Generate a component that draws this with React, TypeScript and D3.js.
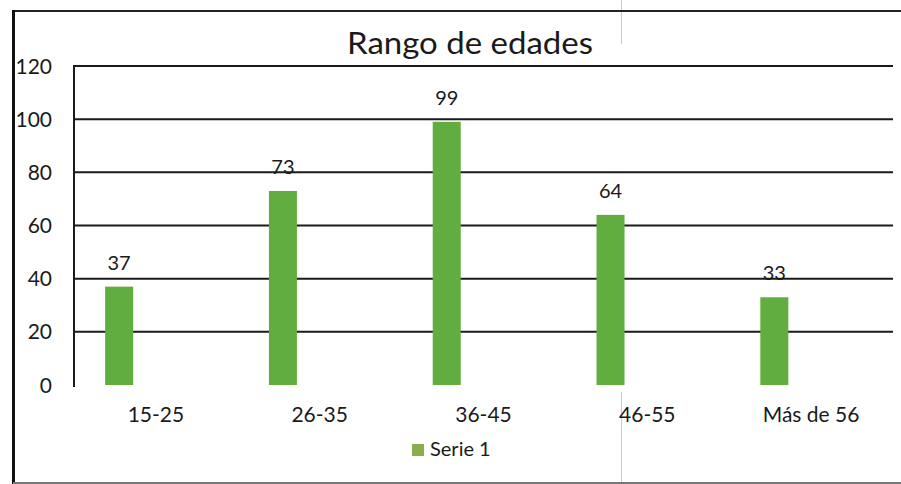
import React from "react";
import * as d3 from "d3";

const categories = ["15-25", "26-35", "36-45", "46-55", "Más de 56"];
const serie1 = [37, 73, 99, 64, 33];
const yTicks = [0, 20, 40, 60, 80, 100, 120];
const title = "Rango de edades";
const seriesName = "Serie 1";

const W = 901;
const H = 484;
const FONT = "Lato, 'Open Sans', sans-serif";

export default function App() {
  const x = d3.scaleBand<string>().domain(categories).range([74, 893]).padding(0);
  const y = d3.scaleLinear().domain([0, 120]).range([385, 66]);
  const bw = x.bandwidth();
  const barOff = bw * 0.19;
  const barW = bw * 0.171;

  return (
    <svg
      width={W}
      height={H}
      style={{ position: "absolute", left: 0, top: 0, display: "block", background: "#fff" }}
      fontFamily={FONT}
    >
      <rect x={0} y={0} width={W} height={H} fill="#fff" />
      {/* scan artifact line */}
      <line x1={621.5} x2={621.5} y1={0} y2={44} stroke="#c8c8c8" strokeWidth={1} />
      <line x1={621.5} x2={621.5} y1={392} y2={H} stroke="#c8c8c8" strokeWidth={1} />
      {/* frame */}
      <line x1={13} x2={W} y1={11} y2={11} stroke="#222" strokeWidth={2} />
      <line x1={13.5} x2={13.5} y1={10} y2={H} stroke="#111" strokeWidth={3} />
      <line x1={13} x2={W} y1={483} y2={483} stroke="#777" strokeWidth={2} />

      <text x={470} y={54} textAnchor="middle" fontSize={30} fill="#1a1a1a" textLength={246} lengthAdjust="spacingAndGlyphs">
        {title}
      </text>

      {/* gridlines */}
      {yTicks.filter((t) => t > 0).map((t) => (
        <line key={t} x1={74} x2={893} y1={y(t)} y2={y(t)} stroke="#1a1a1a" strokeWidth={2} />
      ))}
      {/* y tick labels */}
      {yTicks.map((t) => (
        <text key={t} x={52} y={y(t)} dy="0.36em" textAnchor="end" fontSize={21} fill="#1a1a1a">
          {t}
        </text>
      ))}

      {/* bars */}
      {categories.map((c, i) => (
        <rect
          key={c}
          x={(x(c) as number) + barOff}
          y={y(serie1[i])}
          width={barW}
          height={y(0) - y(serie1[i])}
          fill="#62ad3f"
        />
      ))}
      {/* data labels */}
      {categories.map((c, i) => (
        <text
          key={c}
          x={(x(c) as number) + barOff + barW / 2}
          y={y(serie1[i]) - 17}
          textAnchor="middle"
          fontSize={20}
          fill="#1a1a1a"
        >
          {serie1[i]}
        </text>
      ))}

      {/* y axis line */}
      <line x1={74} x2={74} y1={65} y2={387} stroke="#1a1a1a" strokeWidth={2} />

      {/* category labels */}
      {categories.map((c) => (
        <text
          key={c}
          x={(x(c) as number) + bw / 2}
          y={422}
          textAnchor="middle"
          fontSize={21}
          fill="#1a1a1a"
        >
          {c}
        </text>
      ))}

      {/* legend */}
      <rect x={412} y={444} width={12} height={12} fill="#8cad4e" />
      <text x={430} y={456} fontSize={20} fill="#1a1a1a">
        {seriesName}
      </text>
    </svg>
  );
}
